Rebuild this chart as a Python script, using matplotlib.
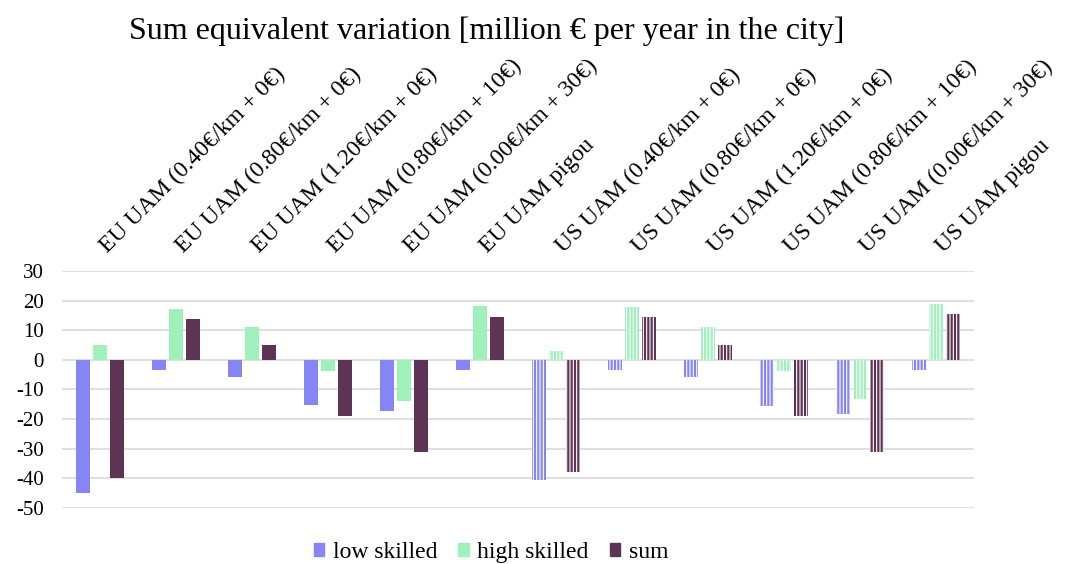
import numpy as np
import matplotlib.pyplot as plt
from matplotlib.patches import Patch

plt.rcParams['font.family'] = ['Liberation Serif', 'DejaVu Serif']
plt.rcParams['hatch.linewidth'] = 1.6
plt.rcParams['axes.unicode_minus'] = False

# data
categories = ['EU UAM (0.40€/km + 0€)', 'EU UAM (0.80€/km + 0€)', 'EU UAM (1.20€/km + 0€)',
              'EU UAM (0.80€/km + 10€)', 'EU UAM (0.00€/km + 30€)', 'EU UAM pigou',
              'US UAM (0.40€/km + 0€)', 'US UAM (0.80€/km + 0€)', 'US UAM (1.20€/km + 0€)',
              'US UAM (0.80€/km + 10€)', 'US UAM (0.00€/km + 30€)', 'US UAM pigou']
low_skilled = [-44.9, -3.4, -5.7, -15.2, -17.3, -3.4, -40.6, -3.4, -5.7, -15.5, -18.2, -3.4]
high_skilled = [5.0, 17.2, 11.0, -3.8, -13.8, 18.2, 3.1, 17.8, 11.1, -3.7, -13.1, 18.9]
total = [-40.0, 13.7, 5.0, -19.1, -31.1, 14.6, -37.9, 14.5, 5.0, -19.1, -31.2, 15.5]
series_names = ['low skilled', 'high skilled', 'sum']
colors = ['#8585f6', '#9ff0ba', '#5e3454']

fig = plt.figure(figsize=(10.65, 5.64), dpi=100)
ax = fig.add_axes([0.0582, 0.0993, 0.8564, 0.4202])

x = np.arange(len(categories))
width = 0.18
offsets = [-0.22, 0.0, 0.22]
for vals, off, col in zip([low_skilled, high_skilled, total], offsets, colors):
    for i, v in enumerate(vals):
        if categories[i].startswith('US'):
            # US scenarios are drawn with vertical stripes
            ax.bar(x[i] + off, v, width, facecolor='white', edgecolor=col,
                   linewidth=0, hatch='|||||', zorder=3)
        else:
            ax.bar(x[i] + off, v, width, color=col, linewidth=0, zorder=3)

ax.set_xlim(-0.5, len(categories) - 0.5)
ax.set_ylim(-50, 30)
ax.set_yticks(np.arange(-50, 31, 10))
ax.yaxis.grid(True, color='#d9d9d9', linewidth=1.2, zorder=0)
ax.set_axisbelow(True)
for s in ax.spines.values():
    s.set_visible(False)
ax.set_xticks([])
ax.tick_params(axis='y', length=0, labelsize=15, pad=13)

# rotated category labels above the plot
for i, c in enumerate(categories):
    ax.text(x[i] + 0.14, 1.06, c, transform=ax.get_xaxis_transform(),
            rotation=45, rotation_mode='anchor', ha='left', va='bottom', fontsize=17)

fig.text(0.457, 0.945, 'Sum equivalent variation [million € per year in the city]',
         ha='center', va='center', fontsize=23)

handles = [Patch(color=c) for c in colors]
fig.legend(handles, series_names, loc='center', bbox_to_anchor=(0.461, 0.021), ncol=3,
           frameon=False, fontsize=17, handlelength=0.45, handleheight=0.45,
           handletextpad=0.35, columnspacing=0.9)

fig.savefig('out.png', dpi=100)
